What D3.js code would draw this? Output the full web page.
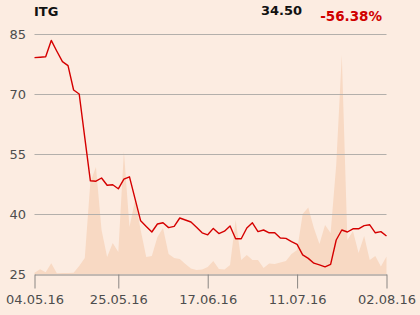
<!DOCTYPE html>
<html><head><meta charset="utf-8">
<script src="https://cdn.jsdelivr.net/npm/d3@7"></script>
<style>
html,body{margin:0;padding:0;background:#fcece1;}
svg{display:block;font-family:"DejaVu Sans",sans-serif;}
</style></head>
<body>
<svg id="c" width="420" height="315"></svg>
<script>
const title = "ITG";
const lastPrice = "34.50";
const change = "-56.38%";
const price = [79.1,79.2,79.3,83.4,80.7,78.1,77.1,71.0,70.0,59.1,48.3,48.2,49.0,47.2,47.3,46.3,
  48.7,49.3,43.8,38.3,36.9,35.5,37.5,37.8,36.6,36.9,39.0,38.5,38.0,36.7,35.3,34.8,
  36.4,35.1,35.7,37.0,33.8,33.8,36.5,37.8,35.6,36.0,35.3,35.3,34.0,33.9,33.1,32.4,
  29.8,28.9,27.7,27.3,26.8,27.4,33.5,36.0,35.5,36.3,36.3,37.1,37.3,35.3,35.6,34.5];
const volume = [0.5,2.0,0.7,4.5,0.3,0.4,0.4,0.5,3.3,6.7,38.3,44.6,18.3,7.1,12.9,9.2,
  51.0,19.6,30.8,18.3,7.1,7.5,15.4,19.2,8.3,6.7,6.3,4.2,2.3,1.7,1.9,2.9,
  5.4,2.1,1.9,3.8,22.5,5.8,7.9,5.8,5.8,2.5,4.4,4.2,4.8,5.4,8.3,10.0,
  25.0,27.7,19.2,12.5,20.4,17.1,45.4,91.3,14.2,17.9,8.75,15.8,5.8,7.5,3.1,7.3];
const yTicks = [25,40,55,70,85];
const xTickIdx = [0,15,31,47,63];
const xTickLabels = ["04.05.16","25.05.16","17.06.16","11.07.16","02.08.16"];

const svg = d3.select("#c");
const x = d3.scaleLinear().domain([0, price.length-1]).range([34.5, 386.5]);
const y = d3.scaleLinear().domain([25,85]).range([274,34]);
const yv = d3.scaleLinear().domain([0,100]).range([274,34]);

// volume area
svg.append("path").datum(volume)
  .attr("d", d3.area().x((d,i)=>x(i)).y0(yv(0)).y1(d=>yv(d)))
  .attr("fill","#f8d9c3");

// gridlines
svg.append("g").selectAll("line").data(yTicks.filter(t=>t>25)).join("line")
  .attr("x1",34.5).attr("x2",386.5)
  .attr("y1",d=>Math.round(y(d))+0.5).attr("y2",d=>Math.round(y(d))+0.5)
  .attr("stroke","#b3afab").attr("stroke-width",1);

// y labels
svg.append("g").selectAll("text").data(yTicks).join("text")
  .attr("x",26).attr("y",d=>y(d)).attr("dy","0.36em")
  .attr("text-anchor","end").attr("font-size",13).attr("fill","#4d4d4d")
  .text(d=>d);

// x axis
const xAxis = d3.axisBottom(x).tickValues(xTickIdx)
  .tickFormat((d,i)=>xTickLabels[i]).tickSize(14).tickPadding(6).tickSizeOuter(0);
const gx = svg.append("g").attr("transform","translate(0,274.5)").call(xAxis);
gx.select(".domain").attr("stroke","#8a8683");
gx.selectAll(".tick line").attr("stroke","#8a8683");
gx.selectAll(".tick text").attr("font-size",13).attr("fill","#4d4d4d")
  .attr("font-family","DejaVu Sans, sans-serif");

// price line
svg.append("path").datum(price)
  .attr("d", d3.line().x((d,i)=>x(i)).y(d=>y(d)))
  .attr("fill","none").attr("stroke","#d50000").attr("stroke-width",1.4)
  .attr("stroke-linejoin","round");

// header texts
svg.append("text").attr("x",34).attr("y",15.5).attr("font-size",13).attr("font-weight","bold")
  .attr("fill","#111").text(title);
svg.append("text").attr("x",302).attr("y",14.5).attr("text-anchor","end").attr("font-size",13)
  .attr("font-weight","bold").attr("fill","#111").text(lastPrice);
svg.append("text").attr("x",382).attr("y",21).attr("text-anchor","end").attr("font-size",13.5)
  .attr("font-weight","bold").attr("fill","#d00000").text(change);
</script>
</body></html>
